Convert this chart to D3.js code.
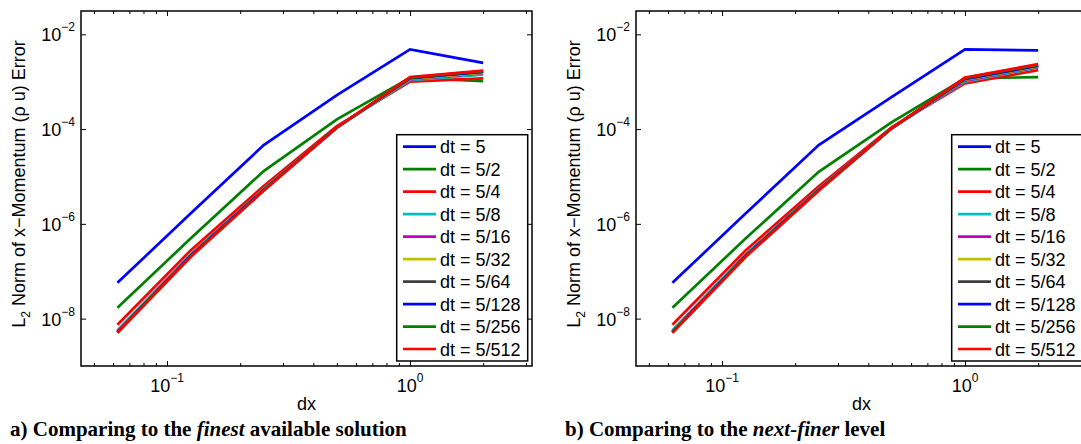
<!DOCTYPE html>
<html>
<head>
<meta charset="utf-8">
<script src="https://cdn.jsdelivr.net/npm/d3@7"></script>
<style>
  body { margin: 0; background: #fff; }
  text { font-family: "Liberation Sans", Arial, sans-serif; }
</style>
</head>
<body>
<script>
// grid spacings (x values) shared by both panels
const dx = [0.0625, 0.125, 0.25, 0.5, 1, 2];

const dtLabels = ["dt = 5", "dt = 5/2", "dt = 5/4", "dt = 5/8", "dt = 5/16",
    "dt = 5/32", "dt = 5/64", "dt = 5/128", "dt = 5/256", "dt = 5/512"];

// matlab default line colours, cycled
const lineColors = ["#0000ff", "#007f00", "#ff0000", "#00bfbf", "#bf00bf",
    "#bfbf00", "#3f3f3f", "#0000ff", "#007f00", "#ff0000"];

// panel a: error vs finest solution, one row per dt
const finestErrors = [
    [5.7e-8, 1.65e-6, 4.6e-5, 5.2e-4, 4.8e-3, 2.5e-3],
    [1.7e-8, 4.9e-7, 1.3e-5, 1.6e-4, 1.2e-3, 1.03e-3],
    [7.4e-9, 2.75e-7, 6.3e-6, 1.15e-4, 1.0e-3, 1.17e-3],
    [5.6e-9, 2.25e-7, 5.5e-6, 1.08e-4, 1.08e-3, 1.4e-3],
    [5.4e-9, 2.2e-7, 5.4e-6, 1.08e-4, 1.12e-3, 1.52e-3],
    [5.3e-9, 2.15e-7, 5.3e-6, 1.08e-4, 1.15e-3, 1.56e-3],
    [5.2e-9, 2.1e-7, 5.2e-6, 1.08e-4, 1.18e-3, 1.6e-3],
    [5.2e-9, 2.1e-7, 5.2e-6, 1.08e-4, 1.2e-3, 1.63e-3],
    [5.1e-9, 2.05e-7, 5.1e-6, 1.08e-4, 1.22e-3, 1.67e-3],
    [5.0e-9, 2.0e-7, 5.0e-6, 1.08e-4, 1.25e-3, 1.72e-3]
];

// panel b: error vs next-finer level
const nextFinerErrors = [
    [5.7e-8, 1.65e-6, 4.6e-5, 4.8e-4, 4.8e-3, 4.6e-3],
    [1.7e-8, 4.9e-7, 1.25e-5, 1.4e-4, 1.17e-3, 1.25e-3],
    [7.4e-9, 2.75e-7, 6.2e-6, 1.1e-4, 9.2e-4, 1.75e-3],
    [5.6e-9, 2.25e-7, 5.5e-6, 1.05e-4, 1.0e-3, 2.0e-3],
    [5.4e-9, 2.2e-7, 5.4e-6, 1.05e-4, 1.05e-3, 2.05e-3],
    [5.3e-9, 2.15e-7, 5.3e-6, 1.05e-4, 1.1e-3, 2.1e-3],
    [5.2e-9, 2.1e-7, 5.2e-6, 1.05e-4, 1.13e-3, 2.15e-3],
    [5.2e-9, 2.1e-7, 5.2e-6, 1.05e-4, 1.16e-3, 2.2e-3],
    [5.1e-9, 2.05e-7, 5.1e-6, 1.05e-4, 1.19e-3, 2.27e-3],
    [5.0e-9, 2.0e-7, 5.0e-6, 1.05e-4, 1.22e-3, 2.35e-3]
];

const xMajor = [0.1, 1];
const xMinor = [0.05, 0.06, 0.07, 0.08, 0.09, 0.2, 0.3, 0.4, 0.5, 0.6, 0.7, 0.8, 0.9, 2, 3];
const xTickExp = ["−1", "0"];
const yMajor = [1e-8, 1e-6, 1e-4, 1e-2];
const yTickExp = ["−8", "−6", "−4", "−2"];

let margin = {left: 81, top: 11};
let plot_width = 451, plot_height = 355;

let svg = d3.select("body")
    .append("svg")
    .attr("width", 1081)
    .attr("height", 444);

/**
 * Draws one log-log panel at a horizontal offset
 */
function drawPanel(offsetX, errors, caption) {
    let g = svg.append("g")
        .attr("transform", `translate(${offsetX + margin.left}, ${margin.top})`);

    let x = d3.scaleLog()
        .domain([Math.pow(10, -1.354), Math.pow(10, 0.502)])
        .range([0, plot_width]);
    let y = d3.scaleLog()
        .domain([1e-9, Math.pow(10, -1.508)])
        .range([plot_height, 0]);

    // inward ticks on all four sides
    let addAxis = function(axis, tx, ty) {
        let a = g.append("g")
            .attr("transform", `translate(${tx}, ${ty})`)
            .call(axis);
        a.select(".domain").remove();
        a.selectAll("line").attr("stroke", "#000").attr("stroke-width", 1);
        a.selectAll("text").remove();
    };
    addAxis(d3.axisBottom(x).tickValues(xMajor).tickSize(-5), 0, plot_height);
    addAxis(d3.axisBottom(x).tickValues(xMinor).tickSize(-3), 0, plot_height);
    addAxis(d3.axisTop(x).tickValues(xMajor).tickSize(-5), 0, 0);
    addAxis(d3.axisTop(x).tickValues(xMinor).tickSize(-3), 0, 0);
    addAxis(d3.axisLeft(y).tickValues(yMajor).tickSize(-5), 0, 0);
    addAxis(d3.axisRight(y).tickValues(yMajor).tickSize(-5), plot_width, 0);

    // lines, drawn in order so later ones sit on top
    let line = d3.line()
        .x((d, i) => x(dx[i]))
        .y(d => y(d));
    g.append("g")
        .selectAll("path")
        .data(errors)
        .enter().append("path")
        .attr("d", d => line(d))
        .attr("fill", "none")
        .attr("stroke", (d, i) => lineColors[i])
        .attr("stroke-width", 2.7);

    // box
    g.append("rect")
        .attr("width", plot_width)
        .attr("height", plot_height)
        .attr("fill", "none")
        .attr("stroke", "#000")
        .attr("stroke-width", 1.5);

    // x tick labels 10^n
    let xl = g.selectAll(".xlab")
        .data(xMajor)
        .enter().append("text")
        .attr("class", "xlab")
        .attr("x", d => x(d))
        .attr("y", plot_height + 26)
        .style("text-anchor", "middle")
        .style("font-size", "18px");
    xl.append("tspan").text("10");
    xl.append("tspan").attr("dy", -10).style("font-size", "12px").text((d, i) => xTickExp[i]);

    // y tick labels
    let yl = g.selectAll(".ylab")
        .data(yMajor)
        .enter().append("text")
        .attr("class", "ylab")
        .attr("x", -6)
        .attr("y", d => y(d) + 7)
        .style("text-anchor", "end")
        .style("font-size", "18px");
    yl.append("tspan").text("10");
    yl.append("tspan").attr("dy", -10).style("font-size", "12px").text((d, i) => yTickExp[i]);

    // x-axis label
    g.append("text")
        .attr("x", plot_width / 2)
        .attr("y", plot_height + 44)
        .style("text-anchor", "middle")
        .style("font-size", "18px")
        .text("dx");

    // y-axis label
    let ylab = g.append("text")
        .attr("transform", `translate(-56.5, 173) rotate(-90)`)
        .style("text-anchor", "middle")
        .style("font-size", "18px");
    ylab.append("tspan").text("L");
    ylab.append("tspan").attr("dy", 5).style("font-size", "12px").text("2");
    ylab.append("tspan").attr("dy", -5).text(" Norm of x−Momentum (ρ u) Error");

    // legend
    let legend = g.append("g").attr("transform", "translate(315.7, 123.7)");
    legend.append("rect")
        .attr("width", 131)
        .attr("height", 226.3)
        .attr("fill", "#fff")
        .attr("stroke", "#000")
        .attr("stroke-width", 1.5);
    let entry = legend.selectAll(".entry")
        .data(dtLabels)
        .enter().append("g")
        .attr("class", "entry")
        .attr("transform", (d, i) => `translate(0, ${12 + i * 22.48})`);
    entry.append("line")
        .attr("x1", 6.3)
        .attr("x2", 39.3)
        .attr("stroke", (d, i) => lineColors[i])
        .attr("stroke-width", 2.7);
    entry.append("text")
        .attr("x", 43.3)
        .attr("dy", "0.36em")
        .style("font-size", "18px")
        .text(d => d);

    // caption under the panel
    let cap = svg.append("text")
        .attr("x", offsetX + 10)
        .attr("y", 436)
        .style("font-family", "'Liberation Serif', 'Times New Roman', serif")
        .style("font-weight", "bold")
        .style("font-size", "21px");
    cap.append("tspan").text(caption[0]);
    cap.append("tspan").style("font-style", "italic").text(caption[1]);
    cap.append("tspan").text(caption[2]);
}

drawPanel(0, finestErrors, ["a) Comparing to the ", "finest", " available solution"]);
drawPanel(555, nextFinerErrors, ["b) Comparing to the ", "next-finer", " level"]);
</script>
</body>
</html>
